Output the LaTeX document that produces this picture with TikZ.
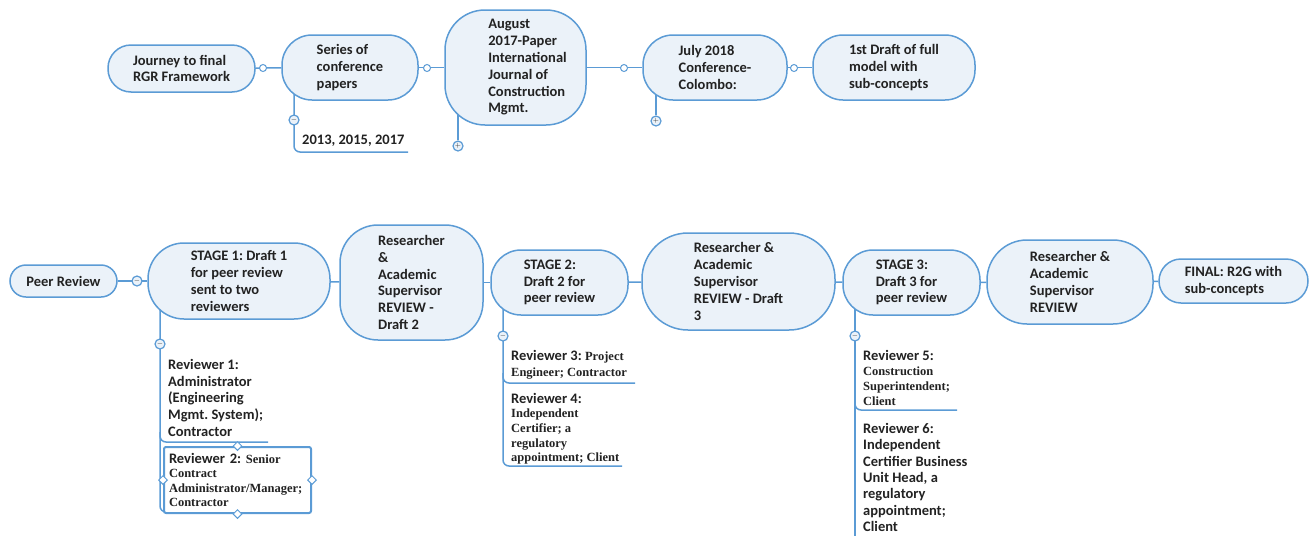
\documentclass[tikz,border=0pt]{standalone}
\usepackage{fontspec}
\setmainfont{Carlito}
\newfontfamily\revserif{Liberation Serif}
\usetikzlibrary{shapes.geometric,backgrounds}
\frenchspacing

\definecolor{mapblue}{HTML}{5B9BD5}
\definecolor{mapfill}{HTML}{EBF2F9}
\definecolor{maptext}{HTML}{222222}
% serif part of a reviewer entry
\newcommand{\plainpart}[1]{{\revserif\fontsize{12.5}{15}\selectfont #1}}

\begin{document}
\begin{tikzpicture}[x=1pt, y=-1pt,
  box/.style={draw=mapblue, fill=mapfill, line width=1.5pt, inner sep=0pt, align=left,
    text=maptext, font=\bfseries\fontsize{14.5}{16.8}\selectfont},
  link/.style={draw=mapblue, line width=1.5pt},
  knob/.style={circle, draw=mapblue, fill=white, line width=1pt, inner sep=0pt, minimum size=7pt},
  toggle/.style={circle, draw=mapblue, fill=mapfill, line width=1.2pt, inner sep=0pt,
    minimum size=10pt, text=maptext, font=\fontsize{7}{7}\selectfont},
  note/.style={anchor=north west, align=left, inner sep=0pt, text=maptext,
    font=\bfseries\fontsize{14.5}{16.7}\selectfont},
  handle/.style={diamond, draw=mapblue, fill=white, line width=1pt, inner sep=0pt, minimum size=9pt}]
  \useasboundingbox (0,0) rectangle (1309,536);

  % Journey row (top)
  \node[box, minimum width=147pt, minimum height=47pt, rounded corners=23pt] (journey) at (181.5,68.5) {Journey to final\\RGR Framework};
  \node[box, minimum width=136pt, minimum height=65pt, rounded corners=30pt] (series) at (350,67.5) {Series of\\conference\\papers};
  \node[box, minimum width=141pt, minimum height=115pt, rounded corners=40pt] (august) at (515.5,67.5)
    {\begin{tabular}{@{\hspace{24pt}}l@{}}August\\2017-Paper\\International\\Journal of\\Construction\\Mgmt.\end{tabular}};
  \node[box, minimum width=144pt, minimum height=65pt, rounded corners=30pt] (july) at (715,67.5) {July 2018\\Conference-\\Colombo:};
  \node[box, minimum width=162pt, minimum height=65pt, rounded corners=30pt] (fulldraft) at (894,67.5) {1st Draft of full\\model with\\sub-concepts};
  \node[note] (years) at (302,135) {2013, 2015, 2017};

  % Peer review row (bottom)
  \node[box, minimum width=107pt, minimum height=32pt, rounded corners=16pt] (peer) at (63.5,281) {Peer Review};
  \node[box, minimum width=182pt, minimum height=76pt, rounded corners=36pt] (stage1) at (239,281) {STAGE 1: Draft 1\\for peer review\\sent to two\\reviewers};
  \node[box, minimum width=143pt, minimum height=115pt, rounded corners=38pt] (check2) at (411.5,282.5) {Researcher\\\&\\Academic\\Supervisor\\REVIEW -\\Draft 2};
  \node[box, minimum width=137pt, minimum height=65pt, rounded corners=30pt] (stage2) at (559.5,282.5) {STAGE 2:\\Draft 2 for\\peer review};
  \node[box, minimum width=193pt, minimum height=97pt, rounded corners=46pt] (check3) at (738.5,281.5) {Researcher \&\\Academic\\Supervisor\\REVIEW - Draft\\3};
  \node[box, minimum width=137pt, minimum height=65pt, rounded corners=30pt] (stage3) at (911.5,282.5) {STAGE 3:\\Draft 3 for\\peer review};
  \node[box, minimum width=166pt, minimum height=84pt, rounded corners=40pt] (check4) at (1070,282) {Researcher \&\\Academic\\Supervisor\\REVIEW};
  \node[box, minimum width=149pt, minimum height=44pt, rounded corners=22pt] (final) at (1233.5,281) {FINAL: R2G with\\sub-concepts};

  % reviewers under each stage
  \node[note] (rev1) at (168,359) {Reviewer 1:\\Administrator\\(Engineering\\Mgmt. System);\\Contractor};
  \node[draw=mapblue, line width=2pt, fill=white, rounded corners=2pt, anchor=north west,
    minimum height=66pt, text width=137pt, inner xsep=5pt, inner ysep=3pt, align=left, text=maptext,
    font=\bfseries\fontsize{14.5}{14.6}\selectfont] (rev2) at (163,446)
    {Reviewer 2: \plainpart{Senior}\\\plainpart{Contract}\\\plainpart{Administrator/Manager;}\\\plainpart{Contractor}};
  \node[note, font=\bfseries\fontsize{14.5}{16}\selectfont] (rev3) at (511,350) {Reviewer 3: \plainpart{Project}\\\plainpart{Engineer; Contractor}};
  \node[note, font=\bfseries\fontsize{14.5}{14.6}\selectfont] (rev4) at (511,393) {Reviewer 4:\\\plainpart{Independent}\\\plainpart{Certifier; a}\\\plainpart{regulatory}\\\plainpart{appointment; Client}};
  \node[note, font=\bfseries\fontsize{14.5}{15}\selectfont] (rev5) at (863,350) {Reviewer 5:\\\plainpart{Construction}\\\plainpart{Superintendent;}\\\plainpart{Client}};
  \node[note, font=\bfseries\fontsize{14.5}{16.4}\selectfont] (rev6) at (863,423) {Reviewer 6:\\Independent\\Certifier Business\\Unit Head, a\\regulatory\\appointment;\\Client};

  % selection handles round reviewer 2
  \node[handle] (hn) at (rev2.north) {};
  \node[handle] (hs) at (rev2.south) {};
  \node[handle] (hw) at (rev2.west) {};
  \node[handle] (he) at (rev2.east) {};

  % expand / collapse buttons
  \node[toggle] (t1) at (294,120) {$-$};
  \node[toggle] (t2) at (458,146) {$+$};
  \node[toggle] (t3) at (656,121) {$+$};
  \node[toggle] (t4) at (137,281) {$-$};
  \node[toggle] (t5) at (160,344) {$-$};
  \node[toggle] (t6) at (503,336) {$-$};
  \node[toggle] (t7) at (855,336) {$-$};

  % joints on the top links
  \node[knob] (k1) at (263,68) {};
  \node[knob] (k2) at (427,68) {};
  \node[knob] (k3) at (624,68) {};
  \node[knob] (k4) at (794,68) {};

  % free ends of the branch lines
  \coordinate (yearsend) at (408,152);
  \coordinate (rev1end) at (268,442);
  \coordinate (rev2end) at (175,512);
  \coordinate (rev3end) at (635,383);
  \coordinate (rev4end) at (622,466);
  \coordinate (rev5end) at (957,410);
  \coordinate (rev6end) at (855,536);

  \begin{pgfonlayer}{background}
    % main chains
    \draw[link] (journey) -- (series);
    \draw[link] (series) -- (august);
    \draw[link] (august) -- (july);
    \draw[link] (july) -- (fulldraft);
    \draw[link] (peer) -- (stage1);
    \draw[link] (stage1) -- (check2);
    \draw[link] (check2) -- (stage2);
    \draw[link] (stage2) -- (check3);
    \draw[link] (check3) -- (stage3);
    \draw[link] (stage3) -- (check4);
    \draw[link] (check4) -- (final);
    % branches
    \draw[link, rounded corners=6pt] (t1 |- series.center) |- (yearsend);
    \draw[link] (t2 |- august.center) -- (t2);
    \draw[link] (t3 |- july.center) -- (t3);
    \draw[link, rounded corners=6pt] (t5 |- stage1.center) |- (rev2end);
    \draw[link, rounded corners=6pt] (t5 |- rev1end) ++(0,-10) |- (rev1end);
    \draw[link, rounded corners=6pt] (t6 |- stage2.center) |- (rev4end);
    \draw[link, rounded corners=6pt] (t6 |- rev3end) ++(0,-10) |- (rev3end);
    \draw[link] (t7 |- stage3.center) -- (rev6end);
    \draw[link, rounded corners=6pt] (t7 |- rev5end) ++(0,-10) |- (rev5end);
  \end{pgfonlayer}
\end{tikzpicture}
\end{document}
